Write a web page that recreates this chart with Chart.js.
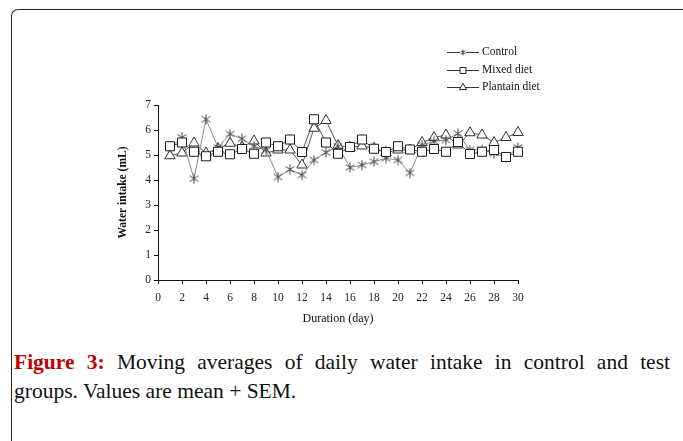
<!DOCTYPE html>
<html>
<head>
<meta charset="utf-8">
<script src="https://cdn.jsdelivr.net/npm/chart.js@4.4.1/dist/chart.umd.min.js"></script>
<style>
  html, body { margin: 0; padding: 0; background: #fff; }
  body { width: 683px; height: 441px; position: relative; overflow: hidden; }
  #frame { position: absolute; left: 11px; top: 9px; width: 700px; height: 460px;
           border-top: 1.5px solid #222; border-left: 1.5px solid #222; border-top-left-radius: 7px; }
  #wrap { position: absolute; left: 0; top: 0; width: 683px; height: 335px; }
  #caption { position: absolute; left: 14px; top: 348px; width: 656px;
             font-family: "Liberation Serif", "DejaVu Serif", serif; font-size: 21.5px; line-height: 29px;
             color: #111; }
  #caption .l1 { text-align: justify; text-align-last: justify; white-space: normal; }
  #caption .l2 { text-align: left; }
  #caption b { color: #c00000; }
</style>
</head>
<body>
<div id="frame"></div>
<div id="wrap"><canvas id="c" width="683" height="335"></canvas></div>
<div id="caption"><div class="l1"><b>Figure 3:</b> Moving averages of daily water intake in control and test</div><div class="l2">groups. Values are mean + SEM.</div></div>
<script>
const days = [1,2,3,4,5,6,7,8,9,10,11,12,13,14,15,16,17,18,19,20,21,22,23,24,25,26,27,28,29,30];
const control = [5.3,5.7,4.05,6.43,5.3,5.84,5.65,5.35,5.2,4.12,4.42,4.2,4.8,5.1,5.35,4.5,4.6,4.73,4.87,4.8,4.28,5.4,5.55,5.6,5.86,5.2,5.22,5.07,4.9,5.3];
const mixedDiet = [5.35,5.5,5.13,4.95,5.13,5.03,5.24,5.05,5.5,5.35,5.62,5.12,6.43,5.5,5.05,5.32,5.62,5.25,5.12,5.35,5.22,5.13,5.24,5.13,5.52,5.04,5.13,5.2,4.92,5.13];
const plantainDiet = [4.97,5.08,5.48,5.08,5.25,5.47,5.32,5.56,5.08,5.2,5.2,4.6,6.07,6.38,5.38,5.31,5.36,5.27,5.1,5.2,5.2,5.5,5.7,5.8,5.4,5.89,5.8,5.5,5.7,5.9];
const seriesNames = ["Control", "Mixed diet", "Plantain diet"];
const xTicks = { min: 0, max: 30, step: 2 };
const yTicks = { min: 0, max: 7, step: 1 };

function starMarker(size) {
  const c = document.createElement('canvas');
  c.width = size; c.height = size;
  const g = c.getContext('2d');
  g.strokeStyle = '#444'; g.lineWidth = 1;
  const m = size / 2, r = size / 2 - 0.5;
  g.beginPath();
  g.moveTo(m - r * 0.87, m - r * 0.6); g.lineTo(m + r * 0.87, m + r * 0.6);
  g.moveTo(m + r * 0.87, m - r * 0.6); g.lineTo(m - r * 0.87, m + r * 0.6);
  g.moveTo(m, m - r); g.lineTo(m, m + r);
  g.stroke();
  return c;
}
const starBig = starMarker(11);
const starSmall = starMarker(7);

const pts = (arr) => days.map((d, i) => ({ x: d, y: arr[i] }));
const serif = "'Liberation Serif', 'DejaVu Serif', serif";

const legendPlugin = {
  id: 'lineLegend',
  afterDraw(chart) {
    const ctx = chart.ctx;
    const x0 = 447, x1 = 479, ys = [52, 70, 87];
    ctx.save();
    chart.data.datasets.forEach((ds, i) => {
      const y = ys[i];
      ctx.strokeStyle = '#333'; ctx.lineWidth = 1;
      ctx.beginPath(); ctx.moveTo(x0, y + 0.5); ctx.lineTo(x1, y + 0.5); ctx.stroke();
      const cx = (x0 + x1) / 2;
      if (i === 0) {
        ctx.fillStyle = '#fff';
        ctx.fillRect(cx - 3, y - 3, 6, 7);
        ctx.drawImage(starSmall, cx - 3.5, y - 3);
      } else {
        ctx.fillStyle = '#fff'; ctx.strokeStyle = '#222'; ctx.lineWidth = 1;
        Chart.helpers.drawPoint(ctx, { pointStyle: ds.pointStyle, radius: 4.2, rotation: 0, borderWidth: 1 }, cx, y + 0.5);
      }
      ctx.fillStyle = '#111';
      ctx.font = "11.5px " + serif;
      ctx.textBaseline = 'middle';
      ctx.textAlign = 'left';
      ctx.fillText(ds.label, x1 + 3, y);
    });
    ctx.restore();
  }
};

new Chart(document.getElementById('c'), {
  type: 'line',
  data: {
    datasets: [
      { label: seriesNames[0], data: pts(control), borderColor: '#8a8a8a', borderWidth: 1, clip: false,
        pointStyle: starBig, pointRadius: 5, backgroundColor: '#fff', order: 1 },
      { label: seriesNames[1], data: pts(mixedDiet), borderColor: '#555', borderWidth: 1, clip: false,
        pointStyle: 'rect', pointRadius: 6.4, pointBackgroundColor: '#fff', pointBorderColor: '#1a1a1a',
        pointBorderWidth: 1, backgroundColor: '#fff', order: 0 },
      { label: seriesNames[2], data: pts(plantainDiet), borderColor: '#555', borderWidth: 1, clip: false,
        pointStyle: 'triangle', pointRadius: 6, pointBackgroundColor: '#fff', pointBorderColor: '#333',
        pointBorderWidth: 1, backgroundColor: '#fff', order: 2 }
    ]
  },
  options: {
    responsive: false,
    animation: false,
    devicePixelRatio: 1,
    layout: { padding: { left: 112, right: 165, top: 105, bottom: 9 } },
    plugins: { legend: { display: false }, tooltip: { enabled: false } },
    scales: {
      x: {
        type: 'linear', min: xTicks.min, max: xTicks.max,
        ticks: { stepSize: xTicks.step, color: '#222', font: { family: serif, size: 11.5 }, padding: 7, maxRotation: 0 },
        grid: { drawOnChartArea: false, drawTicks: true, tickLength: 4, color: '#111' },
        border: { color: '#111', width: 1 },
        title: { display: true, text: 'Duration (day)', color: '#111', font: { family: serif, size: 12 }, padding: { top: 4, bottom: 0 } },
        afterFit(s) { s.height = 46; }
      },
      y: {
        min: yTicks.min, max: yTicks.max,
        ticks: { stepSize: yTicks.step, color: '#222', font: { family: serif, size: 11.5 }, padding: 3 },
        grid: { drawOnChartArea: false, drawTicks: true, tickLength: 4, color: '#111' },
        border: { color: '#111', width: 1 },
        title: { display: true, text: 'Water intake (mL)', color: '#111', font: { family: serif, size: 11.5, weight: 'bold' }, padding: { top: 4, bottom: 4 } },
        afterFit(s) { s.width = 46; }
      }
    }
  },
  plugins: [legendPlugin]
});
</script>
</body>
</html>
